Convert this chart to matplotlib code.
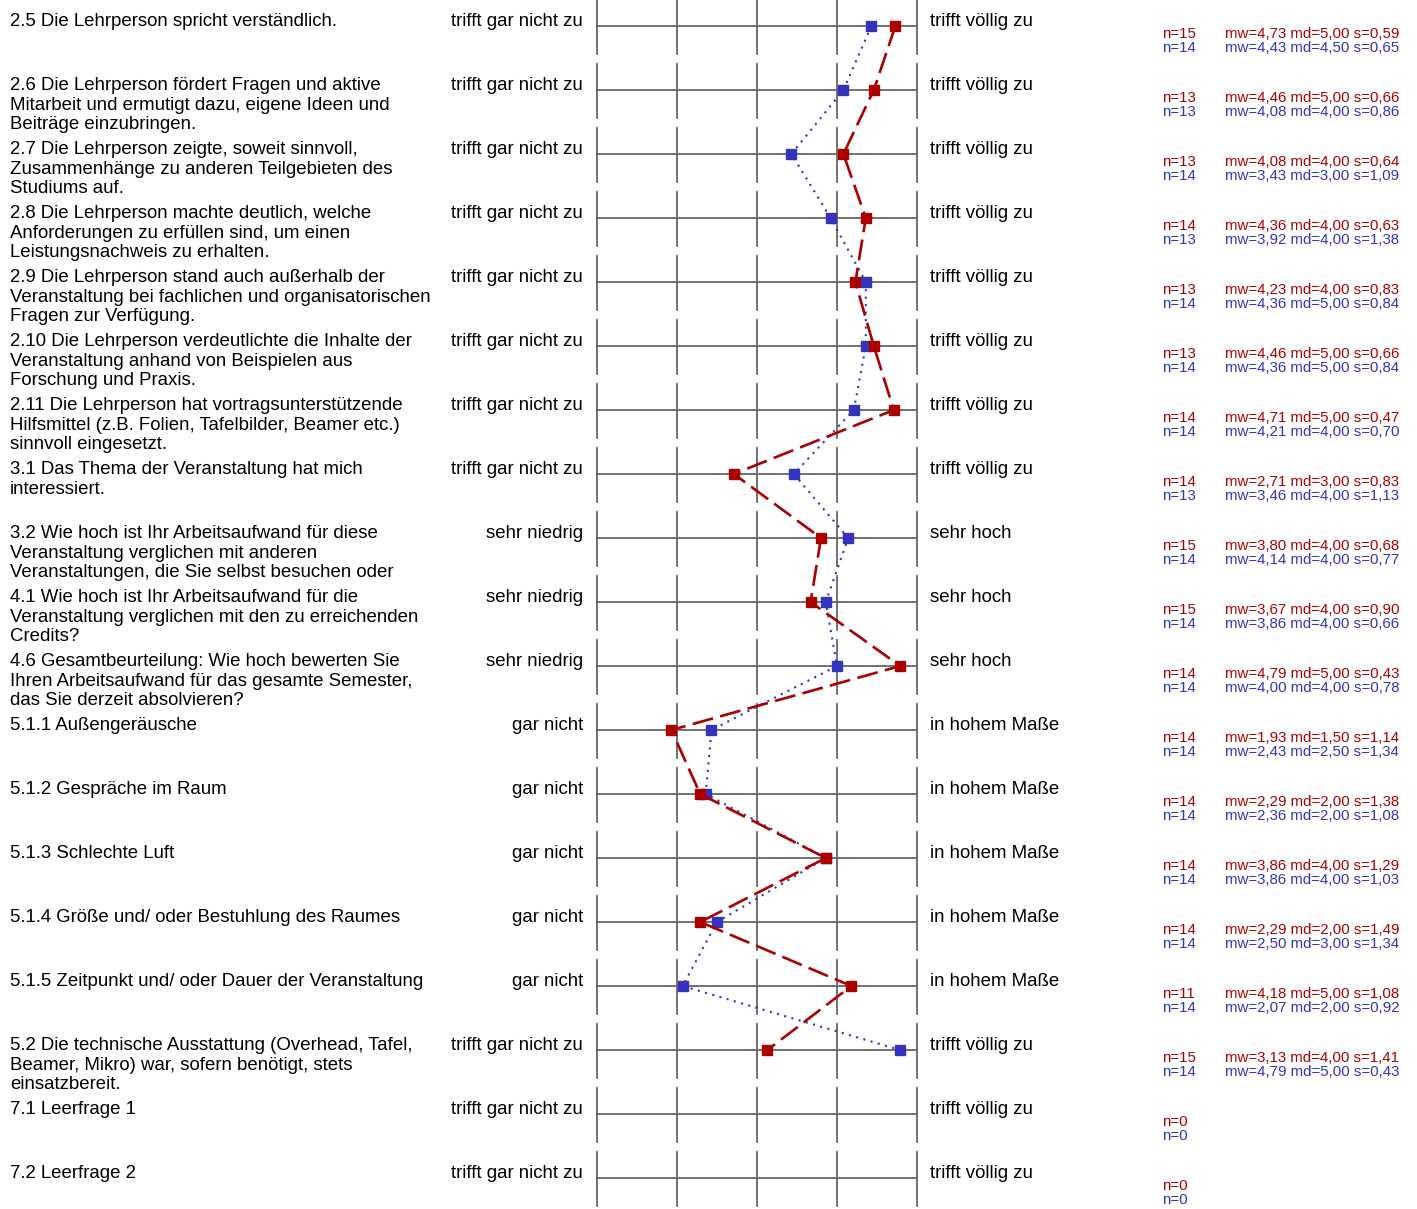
import matplotlib.pyplot as plt
import numpy as np
from matplotlib.transforms import blended_transform_factory

plt.rcParams['font.family'] = ['Liberation Sans', 'DejaVu Sans']

questions = [
    "2.5 Die Lehrperson spricht verständlich.",
    "2.6 Die Lehrperson fördert Fragen und aktive\nMitarbeit und ermutigt dazu, eigene Ideen und\nBeiträge einzubringen.",
    "2.7 Die Lehrperson zeigte, soweit sinnvoll,\nZusammenhänge zu anderen Teilgebieten des\nStudiums auf.",
    "2.8 Die Lehrperson machte deutlich, welche\nAnforderungen zu erfüllen sind, um einen\nLeistungsnachweis zu erhalten.",
    "2.9 Die Lehrperson stand auch außerhalb der\nVeranstaltung bei fachlichen und organisatorischen\nFragen zur Verfügung.",
    "2.10 Die Lehrperson verdeutlichte die Inhalte der\nVeranstaltung anhand von Beispielen aus\nForschung und Praxis.",
    "2.11 Die Lehrperson hat vortragsunterstützende\nHilfsmittel (z.B. Folien, Tafelbilder, Beamer etc.)\nsinnvoll eingesetzt.",
    "3.1 Das Thema der Veranstaltung hat mich\ninteressiert.",
    "3.2 Wie hoch ist Ihr Arbeitsaufwand für diese\nVeranstaltung verglichen mit anderen\nVeranstaltungen, die Sie selbst besuchen oder",
    "4.1 Wie hoch ist Ihr Arbeitsaufwand für die\nVeranstaltung verglichen mit den zu erreichenden\nCredits?",
    "4.6 Gesamtbeurteilung: Wie hoch bewerten Sie\nIhren Arbeitsaufwand für das gesamte Semester,\ndas Sie derzeit absolvieren?",
    "5.1.1 Außengeräusche",
    "5.1.2 Gespräche im Raum",
    "5.1.3 Schlechte Luft",
    "5.1.4 Größe und/ oder Bestuhlung des Raumes",
    "5.1.5 Zeitpunkt und/ oder Dauer der Veranstaltung",
    "5.2 Die technische Ausstattung (Overhead, Tafel,\nBeamer, Mikro) war, sofern benötigt, stets\neinsatzbereit.",
    "7.1 Leerfrage 1",
    "7.2 Leerfrage 2",
]
left_labels = (["trifft gar nicht zu"] * 8 + ["sehr niedrig"] * 3 + ["gar nicht"] * 5
               + ["trifft gar nicht zu"] * 3)
right_labels = (["trifft völlig zu"] * 8 + ["sehr hoch"] * 3 + ["in hohem Maße"] * 5
                + ["trifft völlig zu"] * 3)

# red series
n_red = [15, 13, 13, 14, 13, 13, 14, 14, 15, 15, 14, 14, 14, 14, 14, 11, 15, 0, 0]
mw_red = [4.73, 4.46, 4.08, 4.36, 4.23, 4.46, 4.71, 2.71, 3.80, 3.67, 4.79,
          1.93, 2.29, 3.86, 2.29, 4.18, 3.13, np.nan, np.nan]
md_red = [5.00, 5.00, 4.00, 4.00, 4.00, 5.00, 5.00, 3.00, 4.00, 4.00, 5.00,
          1.50, 2.00, 4.00, 2.00, 5.00, 4.00, np.nan, np.nan]
s_red = [0.59, 0.66, 0.64, 0.63, 0.83, 0.66, 0.47, 0.83, 0.68, 0.90, 0.43,
         1.14, 1.38, 1.29, 1.49, 1.08, 1.41, np.nan, np.nan]

# blue series
n_blue = [14, 13, 14, 13, 14, 14, 14, 13, 14, 14, 14, 14, 14, 14, 14, 14, 14, 0, 0]
mw_blue = [4.43, 4.08, 3.43, 3.92, 4.36, 4.36, 4.21, 3.46, 4.14, 3.86, 4.00,
           2.43, 2.36, 3.86, 2.50, 2.07, 4.79, np.nan, np.nan]
md_blue = [4.50, 4.00, 3.00, 4.00, 5.00, 5.00, 4.00, 4.00, 4.00, 4.00, 4.00,
           2.50, 2.00, 4.00, 3.00, 2.00, 5.00, np.nan, np.nan]
s_blue = [0.65, 0.86, 1.09, 1.38, 0.84, 0.84, 0.70, 1.13, 0.77, 0.66, 0.78,
          1.34, 1.08, 1.03, 1.34, 0.92, 0.43, np.nan, np.nan]

red = '#aa0000'
blue = '#3333bb'
grid = '#666666'

W, H = 1417, 1209
row_px = 64
top_px = 26
fig = plt.figure(figsize=(W / 100, H / 100), dpi=100)
ax = fig.add_axes([597 / W, 0, 320 / W, 1])
ax.set_xlim(1, 5)
ax.set_ylim((H - top_px) / row_px, -top_px / row_px)
ax.axis('off')

rows = np.arange(len(questions))
for r in rows:
    ax.plot([1, 5], [r, r], color=grid, lw=1.3, clip_on=False)
    for v in range(1, 6):
        ax.plot([v, v], [r - 26 / row_px, r + 28 / row_px], color=grid, lw=1.3, clip_on=False)

ax.plot(mw_red, rows, color=red, lw=1.9, dashes=(8, 2.8), marker='s', ms=6.5,
        clip_on=False, zorder=4)
ax.plot(mw_blue, rows, color=blue, lw=1.5, dashes=(1, 2.6), marker='s', ms=6.5,
        clip_on=False, zorder=3)

tr = blended_transform_factory(fig.transFigure, ax.transData)
px = 1 / row_px
fs = 13.4
sfs = 10.8
for r in rows:
    # one text per line, baselines 19 px apart
    for k, line in enumerate(questions[r].split("\n")):
        ax.text(10 / W, r + (0.5 + 19.2 * k) * px, line, transform=tr, ha='left',
                va='baseline', fontsize=fs)
    ax.text(583 / W, r + 0.5 * px, left_labels[r], transform=tr, ha='right', va='baseline',
            fontsize=fs)
    ax.text(930 / W, r + 0.5 * px, right_labels[r], transform=tr, ha='left', va='baseline',
            fontsize=fs)
    ax.text(1162 / W, r + 11.5 * px, f"n={n_red[r]}", transform=tr, ha='left',
            va='baseline', fontsize=sfs, color=red)
    ax.text(1162 / W, r + 26.5 * px, f"n={n_blue[r]}", transform=tr, ha='left',
            va='baseline', fontsize=sfs, color=blue)
    if n_red[r] > 0:
        s = f"mw={mw_red[r]:.2f} md={md_red[r]:.2f} s={s_red[r]:.2f}".replace('.', ',')
        ax.text(1225 / W, r + 11.5 * px, s, transform=tr, ha='left', va='baseline',
                fontsize=sfs, color=red)
    if n_blue[r] > 0:
        s = f"mw={mw_blue[r]:.2f} md={md_blue[r]:.2f} s={s_blue[r]:.2f}".replace('.', ',')
        ax.text(1225 / W, r + 26.5 * px, s, transform=tr, ha='left', va='baseline',
                fontsize=sfs, color=blue)

fig.savefig('out.png', dpi=100)
